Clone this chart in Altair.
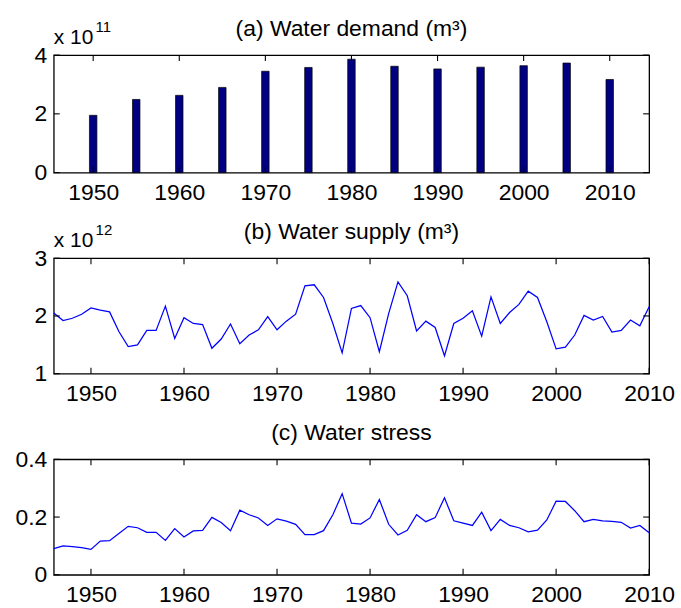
import altair as alt
import pandas as pd

# ---- data ----
demand_years = [1950, 1955, 1960, 1965, 1970, 1975, 1980, 1985, 1990, 1995, 2000, 2005, 2010]
demand_values = [1.95e11, 2.49e11, 2.63e11, 2.90e11, 3.45e11, 3.58e11, 3.86e11,
                 3.62e11, 3.53e11, 3.59e11, 3.64e11, 3.73e11, 3.17e11]

annual_years = list(range(1946, 2011))
supply_values = [2.05, 1.92, 1.96, 2.03,
                 2.14, 2.10, 2.07, 1.73, 1.47, 1.50, 1.75, 1.75, 2.17, 1.61,
                 1.97, 1.87, 1.85, 1.44, 1.60, 1.86, 1.52, 1.67, 1.76, 1.99,
                 1.76, 1.91, 2.03, 2.52, 2.54, 2.32, 1.87, 1.36, 2.13, 2.18,
                 1.97, 1.38, 2.04, 2.59, 2.35, 1.74, 1.91, 1.80, 1.31, 1.87,
                 1.96, 2.09, 1.65, 2.33, 1.87, 2.06, 2.20, 2.43, 2.32, 1.90,
                 1.43, 1.46, 1.67, 2.01, 1.93, 1.99, 1.72, 1.75, 1.93, 1.83, 2.16]
supply_values = [v * 1e12 for v in supply_values]
stress_values = [0.091, 0.100, 0.098, 0.094,
                 0.088, 0.117, 0.118, 0.143, 0.168, 0.163, 0.147, 0.147, 0.119, 0.160,
                 0.131, 0.152, 0.154, 0.199, 0.181, 0.153, 0.224, 0.208, 0.197, 0.171,
                 0.194, 0.186, 0.175, 0.139, 0.139, 0.153, 0.208, 0.281, 0.179, 0.176,
                 0.197, 0.261, 0.175, 0.138, 0.154, 0.208, 0.184, 0.198, 0.267, 0.187,
                 0.179, 0.171, 0.217, 0.153, 0.192, 0.171, 0.163, 0.149, 0.155, 0.190,
                 0.255, 0.254, 0.222, 0.184, 0.192, 0.187, 0.185, 0.182, 0.162, 0.171, 0.146]

x_tick_years = [1950, 1960, 1970, 1980, 1990, 2000, 2010]

titles = ["(a) Water demand (m³)", "(b) Water supply (m³)", "(c) Water stress"]
multiplier_base = "x 10"
multiplier_exps = ["11", "12", ""]

W = 598
FONT = "Liberation Sans"
FS = 23
TICK = 6


def text_layer(s, x, y, size, align="left"):
    return alt.Chart(pd.DataFrame({"t": [s]})).mark_text(
        font=FONT, fontSize=size, align=align, baseline="alphabetic", color="black"
    ).encode(text="t:N", x=alt.value(x), y=alt.value(y))


def panel(df, kind, xdomain, ydomain, yticks, ydiv, yfmt, height, title, exp):
    xs = alt.Scale(domain=xdomain, nice=False, zero=False)
    ys = alt.Scale(domain=ydomain, nice=False, zero=False)
    xaxis = alt.Axis(values=x_tick_years, format="d", tickSize=0, domain=False,
                     grid=False, title=None, labelFontSize=FS, labelColor="black",
                     labelPadding=9, labelFont=FONT, labelFlush=False)
    yaxis = alt.Axis(values=yticks, tickSize=0, domain=False, grid=False, title=None,
                     labelFontSize=FS, labelColor="black", labelPadding=7, labelFont=FONT,
                     labelExpr=f"format(datum.value / {ydiv}, '{yfmt}')")
    base = alt.Chart(df)
    X = alt.X("year:Q", scale=xs, axis=xaxis)
    Y = alt.Y("value:Q", scale=ys, axis=yaxis)
    if kind == "bar":
        main = base.mark_bar(size=7.5, color="#000080", stroke="black", strokeWidth=0.7).encode(x=X, y=Y)
    else:
        main = base.mark_line(color="#0000FF", strokeWidth=1.25).encode(x=X, y=Y)
    xt = alt.Chart(pd.DataFrame({"year": x_tick_years}))
    yt = alt.Chart(pd.DataFrame({"value": yticks}))
    tick_style = dict(color="black", strokeWidth=1.1)
    bot = xt.mark_rule(**tick_style).encode(x=X, y=alt.value(height), y2=alt.value(height - TICK))
    top = xt.mark_rule(**tick_style).encode(x=X, y=alt.value(0), y2=alt.value(TICK))
    left = yt.mark_rule(**tick_style).encode(y=Y, x=alt.value(0), x2=alt.value(TICK))
    right = yt.mark_rule(**tick_style).encode(y=Y, x=alt.value(W), x2=alt.value(W - TICK))
    layers = [main, bot, top, left, right,
              text_layer(title, W / 2, -19.5, FS, align="center")]
    if exp:
        layers.append(text_layer(multiplier_base, 0, -11, 21))
        layers.append(text_layer(exp, 42, -23, 15))
    return alt.layer(*layers).properties(width=W, height=height)


pa = panel(pd.DataFrame({"year": demand_years, "value": demand_values}), "bar",
           [1946, 2014], [0, 4e11], [0, 2e11, 4e11], 1e11, "d", 118, titles[0], multiplier_exps[0])
pb = panel(pd.DataFrame({"year": annual_years, "value": supply_values}), "line",
           [1946, 2010], [1e12, 3e12], [1e12, 2e12, 3e12], 1e12, "d", 116, titles[1], multiplier_exps[1])
pc = panel(pd.DataFrame({"year": annual_years, "value": stress_values}), "line",
           [1946, 2010], [0, 0.4], [0, 0.2, 0.4], 1, ".1~f", 116, titles[2], multiplier_exps[2])

chart = alt.vconcat(pa, pb, pc, spacing=86, bounds="flush").configure(
    font=FONT, background="white",
    view=alt.ViewConfig(stroke="black", strokeWidth=1.3),
).properties(
    padding={"left": 14, "top": 15, "right": 5, "bottom": 2}
)

chart.save("out.html", embed_options={"renderer": "svg", "actions": False})
